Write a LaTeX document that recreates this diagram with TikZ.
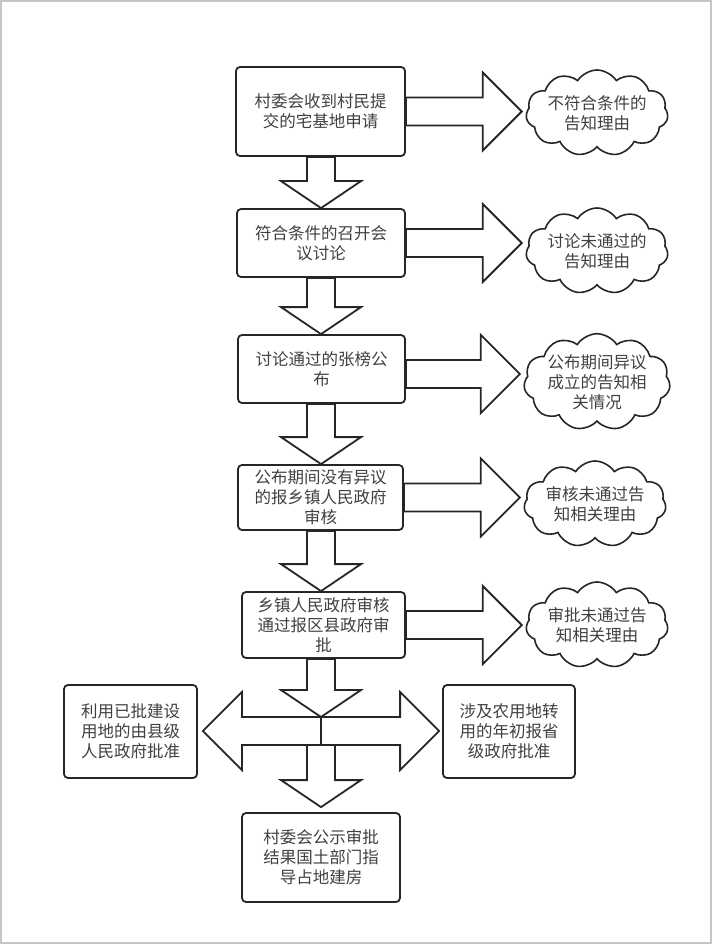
\documentclass[tikz,border=0pt]{standalone}
\usepackage{fontspec}
\setmainfont{Noto Sans CJK SC}
\usetikzlibrary{shapes.symbols,calc}
\newcommand\fs{\fontsize{16.5}{20}\selectfont}
\tikzset{
 box/.style={draw=black!85, line width=1.8pt, rounded corners=4pt, align=center, inner sep=0pt, text=black!75, font=\fs},
 cld/.style={cloud, cloud puffs=11, cloud puff arc=115, cloud ignores aspect, draw=black!85, line width=1.6pt, minimum width=140pt, minimum height=86pt, align=center, inner sep=0pt, text=black!75, font=\fs},
 blk/.style={draw=black!85, line width=1.8pt, line join=miter},
}
\newcommand\DArrow[2]{\draw[blk] let \p1=(#1), \p2=(#2) in
 ({\x1-14pt},{\y1}) -- ({\x1-14pt},{\y2+27pt}) -- ({\x1-40pt},{\y2+27pt}) -- ({\x1},{\y2}) -- ({\x1+40pt},{\y2+27pt}) -- ({\x1+14pt},{\y2+27pt}) -- ({\x1+14pt},{\y1}) -- cycle;}
\newcommand\HArrow[4]{\draw[blk] let \p1=(#1), \p2=(#2) in
 ({\x1},{\y1+#4+14pt}) -- ({\x2-(#3)*39pt},{\y1+#4+14pt}) -- ({\x2-(#3)*39pt},{\y1+#4+39pt}) -- ({\x2},{\y1+#4}) -- ({\x2-(#3)*39pt},{\y1+#4-39pt}) -- ({\x2-(#3)*39pt},{\y1+#4-14pt}) -- ({\x1},{\y1+#4-14pt}) -- cycle;}
\begin{document}
\begin{tikzpicture}[x=1pt,y=-1pt]
\useasboundingbox (0,0) rectangle (712,944);
\draw[gray!45, line width=2pt] (1,1) rectangle (711,943);
% main boxes
\node[box, minimum width=169pt, minimum height=89pt] (b1) at (320.5,111.5) {村委会收到村民提\\交的宅基地申请};
\node[box, minimum width=168pt, minimum height=68pt] (b2) at (321,243) {符合条件的召开会\\议讨论};
\node[box, minimum width=167pt, minimum height=68pt] (b3) at (321.5,369) {讨论通过的张榜公\\布};
\node[box, minimum width=165pt, minimum height=65pt] (b4) at (320.5,497.5) {公布期间没有异议\\的报乡镇人民政府\\审核};
\node[box, minimum width=163pt, minimum height=66pt] (b5) at (323.5,625) {乡镇人民政府审核\\通过报区县政府审\\批};
\node[box, minimum width=158pt, minimum height=89pt] (b6) at (321,857.5) {村委会公示审批\\结果国土部门指\\导占地建房};
\node[box, minimum width=133pt, minimum height=93pt] (L) at (130.5,731.5) {利用已批建设\\用地的由县级\\人民政府批准};
\node[box, minimum width=132pt, minimum height=93pt] (R) at (509,731.5) {涉及农用地转\\用的年初报省\\级政府批准};
% clouds
\node[cld] (c1) at (597,113) {不符合条件的\\告知理由};
\node[cld] (c2) at (597,251) {讨论未通过的\\告知理由};
\node[cld, minimum height=90pt] (c3) at (597,382) {公布期间异议\\成立的告知相\\关情况};
\node[cld] (c4) at (595,504) {审核未通过告\\知相关理由};
\node[cld] (c5) at (597,625) {审批未通过告\\知相关理由};
% axis and cross point
\coordinate (ax) at (321,0);
\coordinate (x0) at (321,731);
% down arrows
\DArrow{ax|-b1.south}{ax|-b2.north}
\DArrow{ax|-b2.south}{ax|-b3.north}
\DArrow{ax|-b3.south}{ax|-b4.north}
\DArrow{ax|-b4.south}{ax|-b5.north}
\DArrow{ax|-b5.south}{$(x0)+(0,-14)$}
% right arrows to clouds
\HArrow{b1.east}{[xshift=-4pt]c1.west}{1}{0pt}
\HArrow{b2.east}{[xshift=-4pt]c2.west}{1}{0pt}
\HArrow{b3.east}{[xshift=-4pt]c3.west}{1}{-5pt}
\HArrow{b4.east}{[xshift=-4pt]c4.west}{1}{0pt}
\HArrow{b5.east}{[xshift=-4pt]c5.west}{1}{0pt}
% cross
\HArrow{x0}{[xshift=5pt]L.east}{-1}{0pt}
\HArrow{x0}{[xshift=-3pt]R.west}{1}{0pt}
\DArrow{$(x0)+(0,14)$}{[yshift=5pt]b6.north}
\end{tikzpicture}
\end{document}
